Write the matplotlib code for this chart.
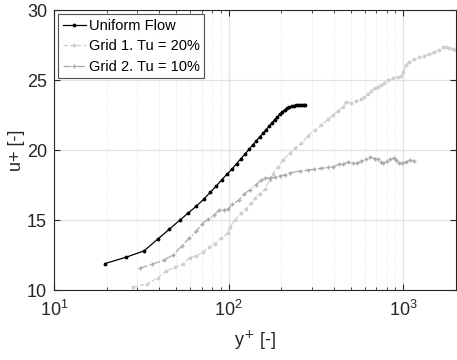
import matplotlib
matplotlib.use("Agg")
import matplotlib.pyplot as plt
from matplotlib.ticker import LogLocator, NullFormatter

plt.rcParams['font.family'] = ['Liberation Sans', 'DejaVu Sans']

# Uniform flow profile
uni_y = [19.6, 26.0, 32.8, 39.4, 45.8, 52.3, 58.8, 65.3, 71.8, 78.3,
         84.9, 91.5, 98.0, 104.6, 111.2, 117.7, 124.3, 130.8, 137.4, 143.9,
         150.5, 157.0, 163.6, 170.1, 176.7, 183.2, 189.8, 196.3, 202.9, 209.4,
         216.0, 222.5, 229.1, 235.6, 242.2, 248.7, 255.3, 261.8, 268.4, 274.9]
uni_u = [11.90, 12.36, 12.81, 13.66, 14.36, 14.98, 15.52, 16.00, 16.48, 16.98,
         17.43, 17.90, 18.30, 18.66, 19.04, 19.40, 19.74, 20.06, 20.37, 20.66,
         20.94, 21.20, 21.46, 21.70, 21.96, 22.18, 22.38, 22.58, 22.74, 22.88,
         22.98, 23.06, 23.12, 23.16, 23.19, 23.20, 23.22, 23.23, 23.23, 23.24]

# Grid 1, Tu = 20%
g1_y = [28.4, 33.9, 39.5, 44.0, 49.1, 54.8, 59.8, 65.3, 71.3, 77.1,
        83.1, 90.8, 99.1, 101.3, 108.2, 118.2, 126.3, 134.9, 140.9, 150.4,
        160.6, 171.6, 179.1, 191.4, 204.2, 223.2, 238.4, 260.0, 284.0, 310.0,
        339.0, 369.0, 394.0, 421.6, 450.0, 470.0, 502.0, 537.0, 573.0, 598.0,
        625.0, 653.0, 683.0, 713.0, 745.0, 778.0, 813.0, 868.0, 927.0, 968.0,
        1000.0, 1035.0, 1081.0, 1156.0, 1234.0, 1318.0, 1409.0, 1503.0, 1592.0, 1679.0,
        1754.0, 1833.0, 1914.0, 2000.0]
g1_u = [10.24, 10.43, 10.90, 11.38, 11.62, 11.86, 12.33, 12.43, 12.74, 13.05,
        13.33, 13.69, 14.10, 14.48, 15.00, 15.48, 15.83, 16.24, 16.55, 16.90,
        17.19, 17.86, 18.33, 18.81, 19.29, 19.76, 20.12, 20.48, 21.00, 21.43,
        21.79, 22.19, 22.50, 22.81, 23.09, 23.45, 23.38, 23.50, 23.62, 23.81,
        24.00, 24.24, 24.41, 24.52, 24.64, 24.81, 25.00, 25.12, 25.24, 25.31,
        25.59, 26.07, 26.31, 26.48, 26.62, 26.74, 26.86, 26.98, 27.14, 27.33,
        27.38, 27.26, 27.19, 27.14]

# Grid 2, Tu = 10%
g2_y = [31.0, 36.6, 42.5, 48.1, 53.8, 59.3, 65.3, 70.7, 76.6, 82.5,
        88.0, 93.6, 99.5, 105.0, 114.6, 121.8, 131.9, 142.6, 153.7, 160.6,
        171.6, 183.2, 195.5, 208.9, 223.2, 254.9, 283.9, 309.6, 338.6, 369.3,
        394.3, 426.9, 449.6, 480.9, 513.5, 541.0, 573.0, 612.0, 645.0, 683.0,
        713.0, 745.0, 768.0, 803.0, 840.0, 878.0, 908.0, 940.0, 982.0, 1035.0,
        1091.0, 1156.0]
g2_u = [11.57, 11.86, 12.14, 12.52, 13.14, 13.69, 14.21, 14.76, 15.07, 15.36,
        15.71, 15.71, 15.79, 16.14, 16.43, 16.86, 17.14, 17.50, 17.86, 17.98,
        18.02, 18.05, 18.14, 18.24, 18.38, 18.50, 18.57, 18.64, 18.69, 18.76,
        18.81, 18.98, 19.00, 19.14, 19.09, 19.09, 19.19, 19.34, 19.48, 19.40,
        19.38, 19.14, 19.05, 19.19, 19.36, 19.43, 19.29, 19.09, 19.05, 19.17,
        19.29, 19.21]

fig = plt.figure(figsize=(4.57, 3.6), dpi=100)
ax = fig.add_axes([0.118, 0.194, 0.880, 0.778])

ax.semilogx(uni_y, uni_u, color='black', lw=0.9, marker='.', ms=3.5,
            label='Uniform Flow')
ax.semilogx(g1_y, g1_u, color='#cfcfcf', lw=0.9, ls='--', marker='.', ms=3.5,
            label='Grid 1. Tu = 20%')
ax.semilogx(g2_y, g2_u, color='#a9a9a9', lw=0.9, ls='-.', marker='+', ms=3.5,
            label='Grid 2. Tu = 10%')

ax.set_xlim(10, 2000)
ax.set_ylim(10, 30)
ax.set_yticks([10, 15, 20, 25, 30])
ax.xaxis.set_major_locator(LogLocator(base=10, numticks=10))
ax.xaxis.set_minor_locator(LogLocator(base=10, subs=range(2, 10), numticks=20))
ax.xaxis.set_minor_formatter(NullFormatter())

ax.grid(True, which='major', color='#e3e3e3', lw=0.9, ls='-')
ax.grid(True, which='minor', axis='x', color='#dcdcdc', lw=0.6, ls=':')
ax.set_axisbelow(True)

ax.tick_params(which='both', direction='in', top=True, right=True,
               labelsize=13, color='#262626', labelcolor='#262626')
ax.tick_params(which='major', length=4, width=0.8)
ax.tick_params(which='minor', length=2, width=0.6)
ax.tick_params(axis='x', which='major', pad=7)
ax.tick_params(axis='y', which='major', pad=5)
for sp in ax.spines.values():
    sp.set_color('#262626')
    sp.set_linewidth(0.8)

ax.set_xlabel('y$^{+}$ [-]', fontsize=13, color='#262626', labelpad=6)
ax.set_ylabel('u+ [-]', fontsize=13, color='#262626', labelpad=1)

leg = ax.legend(loc='upper left', fontsize=10.5, frameon=True, fancybox=False,
                handlelength=1.6, handletextpad=0.2, borderpad=0.3,
                labelspacing=0.45, borderaxespad=0.3)
leg.get_frame().set_edgecolor('#262626')
leg.get_frame().set_linewidth(0.8)

fig.savefig('out.png', dpi=100)
